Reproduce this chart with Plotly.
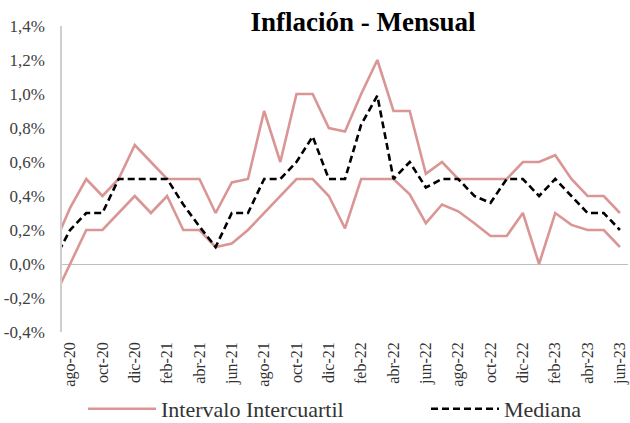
import plotly.graph_objects as go

months = ["jul-20", "ago-20", "sep-20", "oct-20", "nov-20", "dic-20",
          "ene-21", "feb-21", "mar-21", "abr-21", "may-21", "jun-21",
          "jul-21", "ago-21", "sep-21", "oct-21", "nov-21", "dic-21",
          "ene-22", "feb-22", "mar-22", "abr-22", "may-22", "jun-22",
          "jul-22", "ago-22", "sep-22", "oct-22", "nov-22", "dic-22",
          "ene-23", "feb-23", "mar-23", "abr-23", "may-23", "jun-23"]

upper = [0.11, 0.33, 0.50, 0.40, 0.50, 0.70,
         0.60, 0.50, 0.50, 0.50, 0.30, 0.48,
         0.50, 0.90, 0.60, 1.00, 1.00, 0.80,
         0.78, 1.00, 1.20, 0.90, 0.90, 0.53,
         0.60, 0.50, 0.50, 0.50, 0.50, 0.60,
         0.60, 0.64, 0.50, 0.40, 0.40, 0.30]

median = [0.02, 0.20, 0.30, 0.30, 0.50, 0.50,
          0.50, 0.50, 0.35, 0.22, 0.10, 0.30,
          0.30, 0.50, 0.50, 0.60, 0.75, 0.50,
          0.50, 0.82, 0.99, 0.50, 0.60, 0.45,
          0.50, 0.50, 0.40, 0.36, 0.50, 0.50,
          0.40, 0.50, 0.40, 0.30, 0.30, 0.20]

lower = [-0.20, 0.00, 0.20, 0.20, 0.30, 0.40,
         0.30, 0.40, 0.20, 0.20, 0.10, 0.12,
         0.20, 0.30, 0.40, 0.50, 0.50, 0.40,
         0.21, 0.50, 0.50, 0.50, 0.41, 0.24,
         0.35, 0.31, 0.24, 0.165, 0.165, 0.30,
         0.00, 0.30, 0.23, 0.20, 0.20, 0.10]

x_ticks = ["ago-20", "oct-20", "dic-20", "feb-21", "abr-21", "jun-21",
           "ago-21", "oct-21", "dic-21", "feb-22", "abr-22", "jun-22",
           "ago-22", "oct-22", "dic-22", "feb-23", "abr-23", "jun-23"]

y_ticks = [-0.4, -0.2, 0.0, 0.2, 0.4, 0.6, 0.8, 1.0, 1.2, 1.4]
y_labels = ["-0,4%", "-0,2%", "0,0%", "0,2%", "0,4%", "0,6%",
            "0,8%", "1,0%", "1,2%", "1,4%"]

pink = "#d99694"
font = "Liberation Serif"

fig = go.Figure()
fig.add_trace(go.Scatter(x=months, y=upper, mode="lines",
                         name="Intervalo Intercuartil", legend="legend",
                         line=dict(color=pink, width=2.6)))
fig.add_trace(go.Scatter(x=months, y=lower, mode="lines",
                         name="Intervalo Intercuartil", showlegend=False,
                         line=dict(color=pink, width=2.6)))
fig.add_trace(go.Scatter(x=months, y=median, mode="lines", name="Mediana",
                         legend="legend2",
                         line=dict(color="black", width=2.6, dash="7px,4px")))

legend_common = dict(orientation="h", xref="container", yref="container",
                     xanchor="left", y=1 - 409 / 423, yanchor="middle",
                     font=dict(family=font, size=22, color="#333333"),
                     itemwidth=68, bgcolor="rgba(0,0,0,0)",
                     borderwidth=0)

fig.update_layout(
    width=630, height=423,
    margin=dict(l=62, r=2, t=26, b=91, autoexpand=False),
    paper_bgcolor="white", plot_bgcolor="white",
    font=dict(family=font, color="#404040"),
    title=dict(text="<b>Inflación - Mensual</b>", x=363 / 630, xanchor="center",
               xref="container", y=1 - 22 / 423, yanchor="middle", yref="container",
               font=dict(family=font, size=27, color="black")),
    showlegend=True,
    legend=dict(legend_common, x=83 / 630),
    legend2=dict(legend_common, x=426 / 630),
)
fig.update_xaxes(type="category", range=[0.5, 35.5], tickmode="array",
                 tickvals=x_ticks, ticktext=x_ticks, tickangle=-90,
                 showgrid=False, showline=False, zeroline=False, ticks="",
                 ticklabelstandoff=6,
                 tickfont=dict(family=font, size=16, color="#333333"))
fig.update_yaxes(range=[-0.4, 1.4], tickmode="array", tickvals=y_ticks,
                 ticktext=y_labels, showgrid=False, showline=True,
                 linecolor="#cfcfcf", linewidth=1.5, zeroline=True,
                 zerolinecolor="#bfbfbf", zerolinewidth=1, ticks="",
                 ticklabelstandoff=12,
                 tickfont=dict(family=font, size=17, color="#404040"))

fig.write_html("out.html", config={"displayModeBar": False},
               post_script="document.body.style.margin='0';"
                           "document.body.style.overflow='hidden';")
